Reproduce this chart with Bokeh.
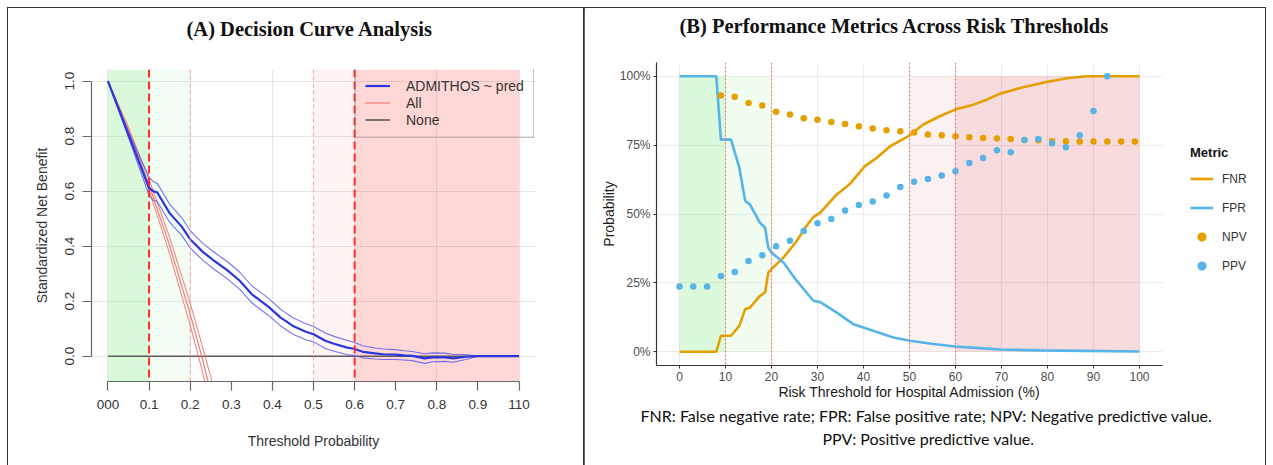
from bokeh.plotting import figure
from bokeh.models import (Span, BoxAnnotation, Legend, LegendItem, FixedTicker,
                          NumeralTickFormatter, PrintfTickFormatter, Title, Range1d)
from bokeh.embed import file_html
from bokeh.resources import INLINE

SANS = "Liberation Sans"
SERIF = "Liberation Serif"

# ---------------- Panel A data (decision curve) ----------------
thr_model = [0.00, 0.05, 0.10, 0.11, 0.12, 0.15, 0.18, 0.20, 0.23, 0.26, 0.29, 0.32,
             0.35, 0.39, 0.42, 0.45, 0.48, 0.50, 0.53, 0.55, 0.58, 0.60, 0.62, 0.65,
             0.67, 0.70, 0.72, 0.74, 0.77, 0.79, 0.82, 0.84, 0.87, 0.90, 0.95, 1.00]
nb_model = [1.000, 0.805, 0.612, 0.600, 0.595, 0.520, 0.470, 0.425, 0.380, 0.345, 0.313, 0.275,
            0.225, 0.180, 0.140, 0.110, 0.090, 0.080, 0.055, 0.045, 0.032, 0.026, 0.016, 0.010,
            0.007, 0.006, 0.003, 0.001, -0.008, -0.004, -0.004, -0.008, -0.002, 0.000, 0.000, 0.000]
nb_model_hi = [1.000, 0.815, 0.650, 0.635, 0.628, 0.553, 0.502, 0.456, 0.411, 0.376, 0.344, 0.306,
               0.256, 0.211, 0.170, 0.140, 0.119, 0.108, 0.083, 0.072, 0.058, 0.050, 0.038, 0.030,
               0.026, 0.024, 0.020, 0.017, 0.009, 0.012, 0.011, 0.006, 0.006, 0.000, 0.000, 0.000]
nb_model_lo = [1.000, 0.795, 0.585, 0.567, 0.562, 0.487, 0.438, 0.394, 0.349, 0.314, 0.282, 0.244,
               0.194, 0.149, 0.110, 0.080, 0.061, 0.052, 0.027, 0.018, 0.006, 0.002, -0.006, -0.010,
               -0.012, -0.012, -0.014, -0.016, -0.026, -0.020, -0.019, -0.022, -0.012, 0.000, 0.000, 0.000]

thr_all = [0.00, 0.05, 0.10, 0.15, 0.20, 0.228, 0.25, 0.27]
nb_all = [1.000, 0.822, 0.623, 0.402, 0.153, 0.000, -0.130, -0.254]
nb_all_hi = [1.000, 0.832, 0.643, 0.432, 0.193, 0.045, -0.075, -0.189]
nb_all_lo = [1.000, 0.812, 0.603, 0.372, 0.113, -0.045, -0.185, -0.319]

thr_none = [0.0, 1.0]
nb_none = [0.0, 0.0]

xticks_a = [0, 0.1, 0.2, 0.3, 0.4, 0.5, 0.6, 0.7, 0.8, 0.9, 1.0]
xgrid_a = [0, 0.2, 0.4, 0.6, 0.8, 1.0]
yticks_a = [0, 0.2, 0.4, 0.6, 0.8, 1.0]
xlabel_override_a = {0: "000", 1: "110"}

# ---------------- Panel B data (performance metrics) ----------------
fnr_x = [0, 8, 9, 11.2, 13, 14.3, 15.3, 17.5, 18.6, 19.3, 20, 22.6, 25.5, 27.3, 29.1, 30.6,
         34.2, 37.1, 40.3, 42.9, 45.8, 49.8, 53, 56.6, 59.9, 63.9, 66.8, 69.7, 74.7, 79.8,
         84.2, 88.5, 100]
fnr_y = [0, 0, 0.058, 0.058, 0.094, 0.155, 0.16, 0.203, 0.215, 0.287, 0.30, 0.342, 0.402,
         0.45, 0.489, 0.505, 0.571, 0.61, 0.674, 0.704, 0.746, 0.783, 0.825, 0.855, 0.879,
         0.897, 0.915, 0.937, 0.96, 0.979, 0.993, 1.0, 1.0]
fpr_x = [0, 8, 9, 11.2, 13, 14.3, 15.3, 17.5, 18.6, 19.3, 20, 22.6, 25.5, 29.1, 30.6, 34.2,
         37.8, 42.1, 46.5, 50.1, 55.2, 59.9, 65.3, 69.7, 78.4, 88, 100]
fpr_y = [1, 1, 0.77, 0.77, 0.668, 0.547, 0.535, 0.468, 0.45, 0.378, 0.36, 0.324, 0.257,
         0.185, 0.18, 0.142, 0.10, 0.076, 0.052, 0.04, 0.028, 0.019, 0.013, 0.008, 0.005,
         0.003, 0.001]
npv_x = [9, 12, 15, 18, 21, 24, 27, 30, 33, 36, 39, 42, 45, 48, 51, 54, 57, 60, 63, 66, 69,
         72, 75, 78, 81, 84, 87, 90, 93, 96, 99]
npv_y = [0.930, 0.926, 0.903, 0.894, 0.871, 0.861, 0.848, 0.842, 0.834, 0.827, 0.819, 0.810,
         0.804, 0.800, 0.796, 0.789, 0.786, 0.782, 0.779, 0.776, 0.774, 0.772, 0.769, 0.768,
         0.764, 0.764, 0.763, 0.763, 0.763, 0.763, 0.763]
ppv_x = [0, 3, 6, 9, 12, 15, 18, 21, 24, 27, 30, 33, 36, 39, 42, 45, 48, 51, 54, 57, 60, 63,
         66, 69, 72, 75, 78, 81, 84, 87, 90, 93]
ppv_y = [0.237, 0.237, 0.237, 0.275, 0.289, 0.329, 0.350, 0.383, 0.403, 0.438, 0.466, 0.482,
         0.513, 0.533, 0.545, 0.567, 0.598, 0.617, 0.627, 0.640, 0.655, 0.685, 0.703, 0.731,
         0.724, 0.769, 0.772, 0.757, 0.742, 0.786, 0.874, 1.0]

xticks_b = [0, 10, 20, 30, 40, 50, 60, 70, 80, 90, 100]
yticks_b = [0, 0.25, 0.5, 0.75, 1.0]
metric_names = ["FNR", "FPR", "NPV", "PPV"]

# zones (threshold bands)
zone_green = (0, 0.1)
zone_lightgreen = (0.1, 0.2)
zone_lightpink = (0.5, 0.6)
zone_pink = (0.6, 1.0)
cut_strong = [0.1, 0.6]
cut_weak = [0.2, 0.5]
cut_b = [10, 20, 50, 60]

BORDER = "0 0 0 1px #333"
ORANGE = "#E69F00"
SKY = "#56B4E9"

# ================= Panel A =================
pA = figure(width=576, height=457, x_range=Range1d(-0.04, 1.04), y_range=Range1d(-0.092, 1.042),
            output_backend="svg", toolbar_location=None,
            min_border_left=83, min_border_right=49, min_border_top=61, min_border_bottom=84,
            background_fill_color="white", border_fill_color="white", outline_line_color=None,
            styles={"position": "absolute", "left": "8px", "top": "8px", "box-shadow": BORDER})

for (l, r), col, a in [(zone_green, "#90ee90", 0.33), (zone_lightgreen, "#90ee90", 0.10),
                       (zone_lightpink, "#ff2020", 0.05), (zone_pink, "#ff2020", 0.18)]:
    pA.add_layout(BoxAnnotation(left=l, right=r, fill_color=col, fill_alpha=a,
                                line_color=None, level="underlay"))

for c in cut_strong:
    pA.add_layout(Span(location=c, dimension="height", line_color="#ff2a2a",
                       line_width=2, line_dash="8 4"))
for c in cut_weak:
    pA.add_layout(Span(location=c, dimension="height", line_color="#ff9a9a",
                       line_width=1, line_dash="4 3"))

r_none = pA.line(thr_none, nb_none, line_color="#5a5a5a", line_width=1.6)
for ys in (nb_all_hi, nb_all_lo):
    pA.line(thr_all, ys, line_color="#f07a72", line_width=1)
r_all = pA.line(thr_all, nb_all, line_color="#f07a72", line_width=1.2)
for ys in (nb_model_hi, nb_model_lo):
    pA.line(thr_model, ys, line_color="#5a5af0", line_width=1.1, line_alpha=0.85)
r_model = pA.line(thr_model, nb_model, line_color="#2b35e0", line_width=2.2)

pA.xgrid.ticker = FixedTicker(ticks=xgrid_a)
pA.ygrid.ticker = FixedTicker(ticks=yticks_a)
for g in (pA.xgrid[0], pA.ygrid[0]):
    g.grid_line_color = "#e6e6e6"
    g.grid_line_width = 1

pA.xaxis.ticker = FixedTicker(ticks=xticks_a)
pA.xaxis.major_label_overrides = xlabel_override_a
pA.yaxis.ticker = FixedTicker(ticks=yticks_a)
pA.yaxis.formatter = PrintfTickFormatter(format="%.1f")
pA.yaxis.major_label_orientation = "vertical"
pA.xaxis.axis_label = "Threshold Probability"
pA.yaxis.axis_label = "Standardized Net Benefit"
for ax in (pA.xaxis[0], pA.yaxis[0]):
    ax.bounds = (0, 1)
    ax.axis_line_color = "#666666"
    ax.axis_line_width = 1.2
    ax.major_tick_line_color = "#666666"
    ax.major_tick_line_width = 1.2
    ax.major_tick_out = 9
    ax.major_tick_in = 0
    ax.minor_tick_line_color = None
    ax.major_label_text_font = SANS
    ax.major_label_text_font_size = "13.5px"
    ax.major_label_text_color = "#333333"
    ax.axis_label_text_font = SANS
    ax.axis_label_text_font_size = "14px"
    ax.axis_label_text_font_style = "normal"
    ax.axis_label_text_color = "#333333"
pA.xaxis.major_label_standoff = 9
pA.xaxis.axis_label_standoff = 21
pA.yaxis.major_label_standoff = 8
pA.yaxis.axis_label_standoff = 13

pA.title.text = "(A) Decision Curve Analysis\n "
pA.title.text_font = SERIF
pA.title.text_font_size = "20.5px"
pA.title.text_font_style = "bold"
pA.title.text_color = "#111111"
pA.title.text_line_height = 1.12
pA.title.align = "left"
pA.title.offset = 95

legA = Legend(items=[LegendItem(label="ADMITHOS ~ pred", renderers=[r_model]),
                     LegendItem(label="All", renderers=[r_all]),
                     LegendItem(label="None", renderers=[r_none])],
              location=(264, 243), border_line_color="#888888", border_line_width=1,
              background_fill_alpha=0, label_text_font=SANS, label_text_font_size="14px",
              label_text_color="#333333", glyph_width=25, glyph_height=17, label_height=17,
              label_standoff=16, padding=9, spacing=0, margin=0)
pA.add_layout(legA)

# ================= Panel B =================
pB = figure(width=681, height=457, x_range=Range1d(-5, 105), y_range=Range1d(-0.05, 1.05),
            output_backend="svg", toolbar_location=None,
            min_border_left=72, min_border_right=103, min_border_top=53, min_border_bottom=100,
            background_fill_color="white", border_fill_color="white", outline_line_color=None,
            styles={"position": "absolute", "left": "584px", "top": "8px", "box-shadow": BORDER})

for (l, r), col, a in [((0, 10), "#90ee90", 0.32), ((10, 20), "#90ee90", 0.12),
                       ((50, 60), "#d9363e", 0.07), ((60, 100), "#d9363e", 0.18)]:
    pB.add_layout(BoxAnnotation(left=l, right=r, bottom=0, top=1, fill_color=col,
                                fill_alpha=a, line_color=None, level="underlay"))
for c in cut_b:
    pB.add_layout(Span(location=c, dimension="height", line_color="#f07070",
                       line_width=1.1, line_dash="2 2"))

pB.line(fnr_x, fnr_y, line_color=ORANGE, line_width=2.6)
pB.line(fpr_x, fpr_y, line_color=SKY, line_width=2.6)
pB.scatter(npv_x, npv_y, size=6.5, fill_color=ORANGE, line_color=None)
pB.scatter(ppv_x, ppv_y, size=6.5, fill_color=SKY, line_color=None)

pB.xaxis.ticker = FixedTicker(ticks=xticks_b)
pB.yaxis.ticker = FixedTicker(ticks=yticks_b)
pB.yaxis.formatter = NumeralTickFormatter(format="0%")
pB.xaxis.axis_label = "Risk Threshold for Hospital Admission (%)"
pB.yaxis.axis_label = "Probability"
for g in (pB.xgrid[0], pB.ygrid[0]):
    g.grid_line_color = "#ebebeb"
    g.grid_line_width = 1.1
for ax in (pB.xaxis[0], pB.yaxis[0]):
    ax.axis_line_color = "#333333"
    ax.axis_line_width = 1.2
    ax.major_tick_line_color = "#333333"
    ax.major_tick_out = 3
    ax.major_tick_in = 0
    ax.minor_tick_line_color = None
    ax.major_label_text_font = SANS
    ax.major_label_text_font_size = "12px"
    ax.major_label_text_color = "#4d4d4d"
    ax.major_label_standoff = 3
    ax.axis_label_text_font = SANS
    ax.axis_label_text_font_size = "14px"
    ax.axis_label_text_font_style = "normal"
    ax.axis_label_text_color = "#1a1a1a"
pB.xaxis.axis_label_standoff = 0
pB.yaxis.axis_label_standoff = 0

pB.title.text = "(B) Performance Metrics Across Risk Thresholds\n "
pB.title.text_font = SERIF
pB.title.text_font_size = "20.5px"
pB.title.text_font_style = "bold"
pB.title.text_color = "#111111"
pB.title.text_line_height = 0.92
pB.title.align = "left"
pB.title.offset = 23

foot1 = Title(text="FNR: False negative rate; FPR: False positive rate; NPV: Negative predictive value.",
              align="left", offset=-16, text_font="Lato", text_font_size="16px",
              text_font_style="normal", text_color="#111111", standoff=3)
foot2 = Title(text="PPV: Positive predictive value.", align="left", offset=166,
              text_font="Lato", text_font_size="16px", text_font_style="normal",
              text_color="#111111", standoff=0)
pB.add_layout(foot1, "below")
pB.add_layout(foot2, "below")

# ---------- legend of panel B (own small canvas at the right; its ranges keep the
# series out of view so that only the legend keys show) ----------
pL = figure(width=80, height=140, x_range=Range1d(-1000, -999), y_range=Range1d(-1000, -999),
            output_backend="svg", toolbar_location=None, x_axis_location=None,
            y_axis_location=None, min_border=0, outline_line_color=None,
            background_fill_alpha=0, border_fill_alpha=0,
            styles={"position": "absolute", "left": "1190px", "top": "145px"})
pL.grid.visible = False
l_fnr = pL.line(fnr_x, fnr_y, line_color=ORANGE, line_width=2.6)
l_fpr = pL.line(fpr_x, fpr_y, line_color=SKY, line_width=2.6)
l_npv = pL.scatter(npv_x, npv_y, size=5.5, fill_color=ORANGE, line_color=None)
l_ppv = pL.scatter(ppv_x, ppv_y, size=5.5, fill_color=SKY, line_color=None)
legB = Legend(items=[LegendItem(label=n, renderers=[r]) for n, r in
                     zip(metric_names, [l_fnr, l_fpr, l_npv, l_ppv])],
              title="Metric", location="top_left", border_line_color=None,
              background_fill_alpha=0, title_text_font=SANS, title_text_font_size="13px",
              title_text_font_style="bold", title_text_color="#111111", title_standoff=4,
              label_text_font=SANS, label_text_font_size="12px", label_text_color="#333333",
              glyph_width=23, glyph_height=29, label_height=29, label_standoff=9,
              padding=0, spacing=0, margin=0)
pL.add_layout(legB)

open("out.html", "w").write(file_html([pA, pB, pL], INLINE))
